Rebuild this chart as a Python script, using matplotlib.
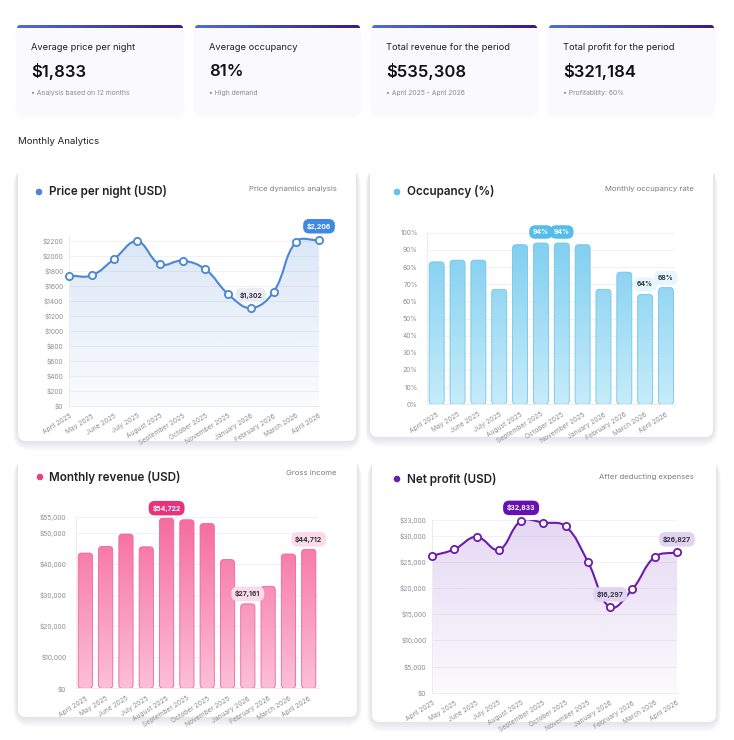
import numpy as np
import matplotlib
matplotlib.use("Agg")
import matplotlib.pyplot as plt
from matplotlib.patches import FancyBboxPatch, PathPatch, Circle
from matplotlib.path import Path
from matplotlib.colors import to_rgb

plt.rcParams['font.family'] = ['Inter', 'DejaVu Sans']

# ---- data ----
months = ["April 2025", "May 2025", "June 2025", "July 2025", "August 2025",
          "September 2025", "October 2025", "November 2025", "January 2026",
          "February 2026", "March 2026", "April 2026"]
price = [1733, 1738, 1960, 2192, 1885, 1933, 1818, 1489, 1302, 1516, 2187, 2206]
occupancy = [83, 84, 84, 67, 93, 94, 94, 93, 67, 77, 64, 68]
revenue = [43500, 45600, 49600, 45500, 54722, 54200, 53000, 41400, 27161, 32800, 43200, 44712]
profit = [26150, 27400, 29800, 27300, 32833, 32500, 31800, 25000, 16297, 19800, 25950, 26827]

kpi_titles = ["Average price per night", "Average occupancy",
              "Total revenue for the period", "Total profit for the period"]
kpi_values = ["$1,833", "81%", "$535,308", "$321,184"]
kpi_notes = ["• Analysis based on 12 months", "• High demand",
             "• April 2025 - April 2026", "• Profitability: 60%"]

price_ticks = list(range(0, 2201, 200))
occ_ticks = list(range(0, 101, 10))
rev_ticks = [0, 10000, 20000, 30000, 40000, 50000, 55000]
profit_ticks = [0, 5000, 10000, 15000, 20000, 25000, 30000, 33000]

W, H = 734, 740
fig = plt.figure(figsize=(W / 100, H / 100), dpi=100)
fig.patch.set_facecolor("#ffffff")

bg = fig.add_axes([0, 0, 1, 1])
bg.set_xlim(0, W)
bg.set_ylim(H, 0)
bg.axis("off")
bg.set_zorder(-5)


def px_axes(left, top, right, bottom):
    return fig.add_axes([left / W, 1 - bottom / H, (right - left) / W, (bottom - top) / H])


def card(x0, y0, x1, y1, fc="white", r=8, shadow=0.012, layers=10):
    # soft shadow, mostly below the card
    for k in range(1, layers + 1):
        bg.add_patch(FancyBboxPatch((x0 - k * 0.5, y0 + k * 0.4), x1 - x0 + k * 1.0,
                                    y1 - y0 + k * 0.6,
                                    boxstyle=f"round,pad=0,rounding_size={r + k}",
                                    fc="#404060", ec="none", alpha=shadow, zorder=1))
    bg.add_patch(FancyBboxPatch((x0, y0), x1 - x0, y1 - y0,
                                boxstyle=f"round,pad=0,rounding_size={r}",
                                fc=fc, ec="none", zorder=2))


# ---- KPI cards ----
kpi_x = [(17, 183), (195, 360), (372, 537), (549, 714)]
grad = np.zeros((1, 256, 3))
c1, c2 = np.array(to_rgb("#4f6fd3")), np.array(to_rgb("#3a1a86"))
for j in range(256):
    grad[0, j] = c1 + (c2 - c1) * j / 255
for (x0, x1), t, v, n in zip(kpi_x, kpi_titles, kpi_values, kpi_notes):
    card(x0, 25, x1, 114, fc="#fafafc", r=6, shadow=0.005, layers=5)
    im = bg.imshow(grad, extent=[x0, x1, 28.5, 25], aspect="auto", zorder=3)
    clip = FancyBboxPatch((x0, 25), x1 - x0, 8, boxstyle="round,pad=0,rounding_size=3",
                          transform=bg.transData)
    im.set_clip_path(clip)
    bg.text(x0 + 14, 47.5, t, fontsize=6.7, color="#1e1e28", va="center", zorder=4)
    bg.text(x0 + 14, 72, v, fontsize=12, color="#111118", va="center",
            fontweight="semibold", zorder=4)
    bg.text(x0 + 14, 93, n, fontsize=4.9, color="#8a8a94", va="center", zorder=4)
bg.set_xlim(0, W)
bg.set_ylim(H, 0)

bg.text(18, 141, "Monthly Analytics", fontsize=6.9, color="#1e1e28", va="center")

# ---- chart cards ----
card(18, 166, 356, 441)
card(370, 166, 713, 437)
card(18, 457, 357, 717)
card(372, 458, 716, 722)

headers = [
    (39, 49, 192, "Price per night (USD)", "#4a88d8", 337, 189, "Price dynamics analysis"),
    (397, 407, 192, "Occupancy (%)", "#5cc3ea", 694, 189, "Monthly occupancy rate"),
    (40, 49, 477, "Monthly revenue (USD)", "#e8417f", 337, 473, "Gross income"),
    (397, 407, 479, "Net profit (USD)", "#6a1fb0", 694, 477, "After deducting expenses"),
]
for dx, tx, ty, title, col, sx, sy, sub in headers:
    bg.add_patch(Circle((dx, ty), 2.6, color=col, zorder=4))
    bg.text(tx, ty, title, fontsize=8.4, color="#22222c", va="center",
            fontweight="semibold", zorder=4)
    bg.text(sx, sy, sub, fontsize=5.6, color="#7c7c86", va="center", ha="right", zorder=4)


def style_axes(ax, ticks, fmt, pad):
    ax.set_facecolor("none")
    ax.set_yticks(ticks)
    ax.set_yticklabels([fmt(t) for t in ticks])
    ax.set_xticks(range(len(months)))
    ax.set_xticklabels(months, rotation=32, ha="right", rotation_mode="anchor")
    ax.tick_params(axis="y", length=0, pad=pad, labelsize=4.8, labelcolor="#8e8e96")
    ax.tick_params(axis="x", length=0, pad=5, labelsize=4.8, labelcolor="#8e8e96")
    ax.grid(axis="y", color="#f1f1f3", lw=0.7)
    ax.set_axisbelow(True)
    for s in ["top", "right"]:
        ax.spines[s].set_visible(False)
    for s in ["left", "bottom"]:
        ax.spines[s].set_color("#ececef")
        ax.spines[s].set_linewidth(0.7)


def bezier_path(ax, xs, ys, t=0.4):
    x0, x1 = ax.get_xlim()
    y0, y1 = ax.get_ylim()
    bb = ax.get_position()
    sx = bb.width * W / (x1 - x0)
    sy = bb.height * H / (y1 - y0)
    px = np.asarray(xs, float) * sx
    py = np.asarray(ys, float) * sy
    n = len(px)
    prev_cp, next_cp = [], []
    for i in range(n):
        a, b = max(i - 1, 0), min(i + 1, n - 1)
        d01 = np.hypot(px[i] - px[a], py[i] - py[a])
        d12 = np.hypot(px[b] - px[i], py[b] - py[i])
        s = d01 + d12
        fa = t * d01 / s if s else 0
        fb = t * d12 / s if s else 0
        ddx, ddy = px[b] - px[a], py[b] - py[a]
        prev_cp.append(((px[i] - fa * ddx) / sx, (py[i] - fa * ddy) / sy))
        next_cp.append(((px[i] + fb * ddx) / sx, (py[i] + fb * ddy) / sy))
    verts = [(xs[0], ys[0])]
    codes = [Path.MOVETO]
    for i in range(n - 1):
        verts += [next_cp[i], prev_cp[i + 1], (xs[i + 1], ys[i + 1])]
        codes += [Path.CURVE4] * 3
    return verts, codes


def gradient_image(ax, color, a_top, a_bot, extent, clip, zorder=1):
    rgb = np.array(to_rgb(color))
    img = np.zeros((256, 1, 4))
    img[:, 0, :3] = rgb
    img[:, 0, 3] = np.linspace(a_top, a_bot, 256)
    im = ax.imshow(img, extent=extent, aspect="auto", origin="upper", zorder=zorder)
    im.set_clip_path(clip)
    return im


def two_color_image(ax, top, bot, extent, clip, zorder=2):
    ct, cb = np.array(to_rgb(top)), np.array(to_rgb(bot))
    img = np.zeros((256, 1, 3))
    for j in range(256):
        img[j, 0] = ct + (cb - ct) * j / 255
    im = ax.imshow(img, extent=extent, aspect="auto", origin="upper", zorder=zorder)
    im.set_clip_path(clip)


def tag(ax, x, y, text, fc, tc, off=12):
    ax.annotate(text, (x, y), xytext=(0, off), textcoords="offset pixels",
                ha="center", va="center", fontsize=4.9, fontweight="bold", color=tc,
                bbox=dict(boxstyle="round,pad=0.55,rounding_size=0.9", fc=fc, ec="none"),
                zorder=10, annotation_clip=False)


def line_chart(ax, values, ymax, color, fill_col, a_top, a_bot):
    x = np.arange(len(values))
    ax.set_xlim(0, len(values) - 1)
    ax.set_ylim(0, ymax)
    verts, codes = bezier_path(ax, x, values)
    curve = Path(verts, codes)
    fverts = verts + [(x[-1], 0), (x[0], 0), (x[0], 0)]
    fcodes = codes + [Path.LINETO, Path.LINETO, Path.CLOSEPOLY]
    fill_patch = PathPatch(Path(fverts, fcodes), transform=ax.transData)
    gradient_image(ax, fill_col, a_top, a_bot, [x[0], x[-1], 0, ymax], fill_patch)
    ax.add_patch(PathPatch(curve, fc="none", ec=color, lw=1.5, zorder=4))
    ax.plot(x, values, "o", ms=5.2, mfc="white", mec=color, mew=1.3, zorder=5, clip_on=False)
    ax.set_xlim(0, len(values) - 1)
    ax.set_ylim(0, ymax)


def bar_chart(ax, values, ymax, top, bot, edge, width=0.71):
    x = np.arange(len(values))
    xl = (-0.45, len(values) - 0.55)
    ax.set_xlim(*xl)
    ax.set_ylim(0, ymax)
    bb = ax.get_position()
    sx = bb.width * W / (xl[1] - xl[0])
    sy = bb.height * H / ymax
    r = 3.5 / sx
    for xi, v in zip(x, values):
        patch = FancyBboxPatch((xi - width / 2, 0), width, v,
                               boxstyle=f"round,pad=0,rounding_size={r}",
                               mutation_aspect=sx / sy, transform=ax.transData)
        two_color_image(ax, top, bot, [xl[0], xl[1], 0, ymax], patch)
        ax.add_patch(FancyBboxPatch((xi - width / 2, 0), width, v,
                                    boxstyle=f"round,pad=0,rounding_size={r}",
                                    mutation_aspect=sx / sy, fc="none", ec=edge,
                                    lw=0.6, zorder=3))
    ax.set_xlim(*xl)
    ax.set_ylim(0, ymax)


# ---- price per night ----
ax1 = px_axes(69, 236.2, 319, 405.7)
line_chart(ax1, price, 2260, "#4a86d6", "#4a86d6", 0.2, 0.03)
style_axes(ax1, price_ticks, lambda v: f"${v}", 4)
tag(ax1, 11, price[11], "$2,206", "#3f8ae0", "white", off=14)
tag(ax1, 8, price[8], "$1,302", "#e9eef5", "#333340", off=13)

# ---- occupancy ----
ax2 = px_axes(427.3, 232.7, 675.4, 404.3)
bar_chart(ax2, occupancy, 100, "#7dcdef", "#c6ecfa", "#72c6ea", width=0.72)
style_axes(ax2, occ_ticks, lambda v: f"{v}%", 7)
for i in (5, 6):
    tag(ax2, i, occupancy[i], f"{occupancy[i]}%", "#56bde9", "white", off=11)
for i in (10, 11):
    tag(ax2, i, occupancy[i], f"{occupancy[i]}%", "#e6f6fd", "#333340", off=10)

# ---- revenue ----
ax3 = px_axes(76.2, 517.3, 317.9, 688.3)
bar_chart(ax3, revenue, 55000, "#f66b9f", "#fcc0d7", "#ee6599", width=0.7)
style_axes(ax3, rev_ticks, lambda v: f"${v:,}", 7)
tag(ax3, 4, revenue[4], "$54,722", "#e8327a", "white", off=10)
tag(ax3, 8, revenue[8], "$27,161", "#fbdbe8", "#333340", off=10)
tag(ax3, 11, revenue[11], "$44,712", "#fbdbe8", "#333340", off=10)

# ---- net profit ----
ax4 = px_axes(432, 520, 677, 692.7)
line_chart(ax4, profit, 33000, "#6a1cae", "#8a4cc8", 0.22, 0.03)
style_axes(ax4, profit_ticks, lambda v: f"${v:,}", 4)
tag(ax4, 4, profit[4], "$32,833", "#6611b0", "white", off=13)
tag(ax4, 8, profit[8], "$16,297", "#e2d3f1", "#333340", off=13)
tag(ax4, 11, profit[11], "$26,827", "#e2d3f1", "#333340", off=13)

fig.savefig("out.png", dpi=100)
